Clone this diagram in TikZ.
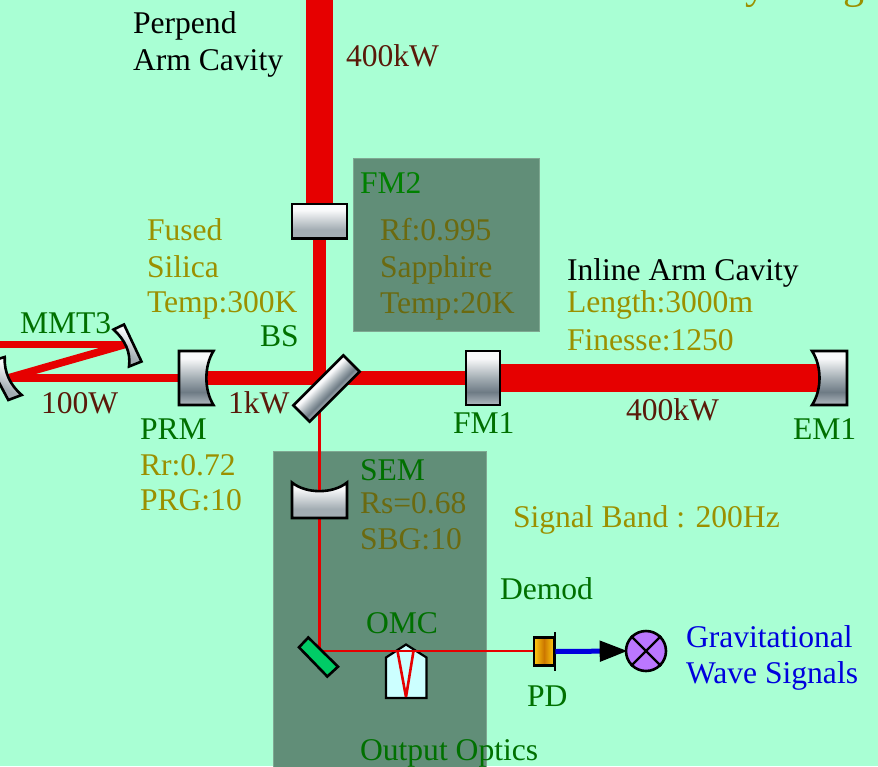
\documentclass[tikz,border=0pt]{standalone}
\usepackage{fontspec}
\setmainfont{Liberation Serif}
\usetikzlibrary{arrows.meta}
\definecolor{bgc}{HTML}{A9FFD4}
\definecolor{panelc}{HTML}{618E78}
\definecolor{paneledge}{HTML}{7FA892}
\definecolor{beamc}{HTML}{E60000}
\definecolor{olivec}{HTML}{9B9000}
\definecolor{dimolive}{HTML}{6B6A10}
\definecolor{greenc}{HTML}{007000}
\definecolor{fmgreen}{HTML}{008000}
\definecolor{brownc}{HTML}{5A1A0A}
\definecolor{bluec}{HTML}{0000DD}
\definecolor{mwhite}{HTML}{F8F9FA}
\definecolor{mgrey}{HTML}{A3ADB3}
\definecolor{mdark}{HTML}{6E7B85}
\definecolor{mlow}{HTML}{B2BAC0}
\definecolor{foldc}{HTML}{00CC66}
\definecolor{omcc}{HTML}{CCFFFF}
\definecolor{detc}{HTML}{BB77FF}
\definecolor{pdy}{HTML}{FFCC11}
\definecolor{pdo}{HTML}{CC7700}
\pgfdeclareverticalshading{mirrorshade}{100bp}{
  color(0bp)=(mlow);
  color(25bp)=(mlow);
  color(37bp)=(mdark);
  color(50bp)=(mgrey);
  color(68bp)=(mwhite);
  color(100bp)=(mwhite)}
\pgfdeclareverticalshading{shortshade}{100bp}{
  color(0bp)=(mgrey);
  color(25bp)=(mgrey);
  color(38bp)=(mgrey);
  color(66bp)=(mwhite);
  color(100bp)=(mwhite)}
\pgfdeclarehorizontalshading{pdshade}{100bp}{
  color(0bp)=(pdy);
  color(25bp)=(pdy);
  color(50bp)=(pdo);
  color(75bp)=(pdy);
  color(100bp)=(pdy)}
\tikzset{
  lbl/.style={anchor=base west,inner sep=0pt,outer sep=0pt,font=\fontsize{31.6}{32}\selectfont},
  olivetxt/.style={lbl,text=olivec},
  dimtxt/.style={lbl,text=dimolive},
  greentxt/.style={lbl,text=greenc},
  browntxt/.style={lbl,text=brownc},
  bluetxt/.style={lbl,text=bluec},
  blacktxt/.style={lbl,text=black},
  panel/.style={fill=panelc,draw=paneledge,line width=.8pt},
  beam/.style={draw=beamc,line cap=butt},
  optic/.style={draw=black,line width=2.6pt,line join=miter,shading=mirrorshade},
  shortoptic/.style={draw=black,line width=2.6pt,line join=miter,shading=shortshade}
}
\begin{document}
\begin{tikzpicture}[x=1pt,y=-1pt]
\useasboundingbox (0,0) rectangle (878,766);
\begin{scope}
\clip (0,0) rectangle (878,766);
\fill[bgc] (0,0) rectangle (878,766);
\node[olivetxt,font=\fontsize{42}{42}\selectfont] (ty) at (745,-2) {y};
\node[olivetxt,font=\fontsize{42}{42}\selectfont] (tg) at (843,-2) {g};
% panels
\path[panel] (353,158) rectangle (539,331);
\path[panel] (273,451) rectangle (486,775);
% beam waypoints
\coordinate (armtop) at (319.5,-3);
\coordinate (fmtwo) at (319.5,221);
\coordinate (bs) at (319.5,378);
\coordinate (prm) at (196,378);
\coordinate (fmone) at (483,378);
\coordinate (emone) at (825,378);
\coordinate (mmt) at (125,344.5);
\coordinate (mmb) at (8,378);
\coordinate (mmoff) at (-3,344.5);
\coordinate (fold) at (319.5,651);
\coordinate (pdin) at (536,651);
% beams
\draw[beam,line width=27pt] (armtop) -- (fmtwo);
\draw[beam,line width=13.4pt] (fmtwo) -- (319.5,384.7);
\draw[beam,line width=13.4pt] (prm) -- (fmone);
\draw[beam,line width=27.6pt] (fmone) -- (emone);
\draw[beam,line width=7.6pt] (prm) -- (mmb);
\draw[beam,line width=7.6pt] (mmb) -- (mmt);
\draw[beam,line width=7.6pt] (mmoff) -- (mmt);
\draw[beam,line width=2.6pt] (bs) -- (fold);
\draw[beam,line width=2.6pt] (318.2,651) -- (pdin);
% optics
\shadedraw[optic] (179,351) -- (213.5,351) .. controls (204,366) and (204,390) .. (213.5,405) -- (179,405) -- cycle;
\shadedraw[optic] (466,351) rectangle (500,405);
\shadedraw[optic] (847,351) -- (812,351) .. controls (822,366) and (822,390) .. (812,405) -- (847,405) -- cycle;
\shadedraw[shortoptic] (292,204) rectangle (347,238.5);
\shadedraw[shortoptic] (292,482.5) .. controls (306,494) and (333,494) .. (347,482.5) -- (347,518) -- (292,518) -- cycle;
\begin{scope}[transform canvas={rotate around={45:(326.5,388.5)}}]
\shadedraw[optic] (291.2,377) rectangle (361.8,400);
\end{scope}
\shadedraw[shortoptic,shading angle=-25] (113.5,329.5) -- (124,324.5) -- (141.5,361.5) -- (129,366.5) .. controls (131,352) and (125,340) .. (113.5,329.5) -- cycle;
\shadedraw[shortoptic,shading angle=-25] (4.7,357) .. controls (4,372) and (10,385) .. (21.7,395) -- (8.3,400) -- (-12,362) -- cycle;
% folding mirror
\filldraw[draw=black,line width=2.6pt,fill=foldc] (308.3,637.5) -- (338,666.7) -- (327.3,676.5) -- (299,647.3) -- cycle;
% OMC
\filldraw[draw=black,line width=2.2pt,fill=omcc] (386,698) -- (386,657.5) -- (406,644.5) -- (426.5,657.5) -- (426.5,698) -- cycle;
\draw[beam,line width=2.6pt,line join=bevel] (397.5,651) -- (406,697) -- (413.5,651);
\draw[beam,line width=2.6pt] (385,651) -- (430,651);
% detection
\node[draw=black,line width=2.6pt,shade,shading=pdshade,minimum width=20pt,minimum height=28.5pt,inner sep=0pt] (pd) at (544,651.5) {};
\coordinate (barT) at (pd.north east |- 0,632);
\coordinate (barB) at (pd.south east |- 0,671);
\draw[black,line width=2.2pt] (barT) -- (barB);
\node[circle,draw=black,line width=2.6pt,fill=detc,minimum size=40pt,inner sep=0pt] (det) at (646,651) {};
\draw[black,line width=2.4pt] (det.45) -- (det.225) (det.135) -- (det.315);
\draw[bluec,line width=5pt,shorten >=-3pt,-{Triangle[length=28pt,width=20pt,fill=black,color=black]}] (pd.east) -- (det.west);
% labels
\node[blacktxt] (perp) at (133,33) {Perpend};
\node[blacktxt] (armc) at (133,70) {Arm Cavity};
\node[browntxt] (pa) at (346,66) {400kW};
\node[greentxt,text=fmgreen] (fm2) at (360,193) {FM2};
\node[dimtxt] (rf) at (380,240) {Rf:0.995};
\node[dimtxt] (sap) at (380,277) {Sapphire};
\node[dimtxt] (tb) at (380,313) {Temp:20K};
\node[olivetxt] (fus) at (147,240) {Fused};
\node[olivetxt] (sil) at (147,277) {Silica};
\node[olivetxt] (ta) at (147,312.5) {Temp:300K};
\node[greentxt] (bsl) at (260,346) {BS};
\node[greentxt] (mm3) at (20,333) {MMT3};
\node[browntxt] (hw) at (41,413) {100W};
\node[browntxt] (kw) at (228,413) {1kW};
\node[greentxt] (prml) at (140,439) {PRM};
\node[olivetxt] (rr) at (140,475) {Rr:0.72};
\node[olivetxt] (prg) at (140,510) {PRG:10};
\node[greentxt] (fm1) at (453,433) {FM1};
\node[browntxt] (ib) at (626,420) {400kW};
\node[greentxt] (em1) at (793,439) {EM1};
\node[blacktxt] (inl) at (567,280) {Inline Arm Cavity};
\node[olivetxt] (len) at (567,312) {Length:3000m};
\node[olivetxt] (fin) at (567,350) {Finesse:1250};
\node[greentxt] (sem) at (360,480) {SEM};
\node[dimtxt] (rs) at (360,513) {Rs=0.68};
\node[dimtxt] (sbg) at (360,549) {SBG:10};
\node[olivetxt] (sb) at (513,527) {Signal Band : 200Hz};
\node[greentxt] (dem) at (500,599) {Demod};
\node[greentxt] (omc) at (366,633) {OMC};
\node[greentxt] (pdl) at (527,706) {PD};
\node[greentxt] (oo) at (360,760) {Output Optics};
\node[bluetxt] (gw) at (686,647) {Gravitational};
\node[bluetxt] (ws) at (686,683) {Wave Signals};
\end{scope}
\end{tikzpicture}
\end{document}
